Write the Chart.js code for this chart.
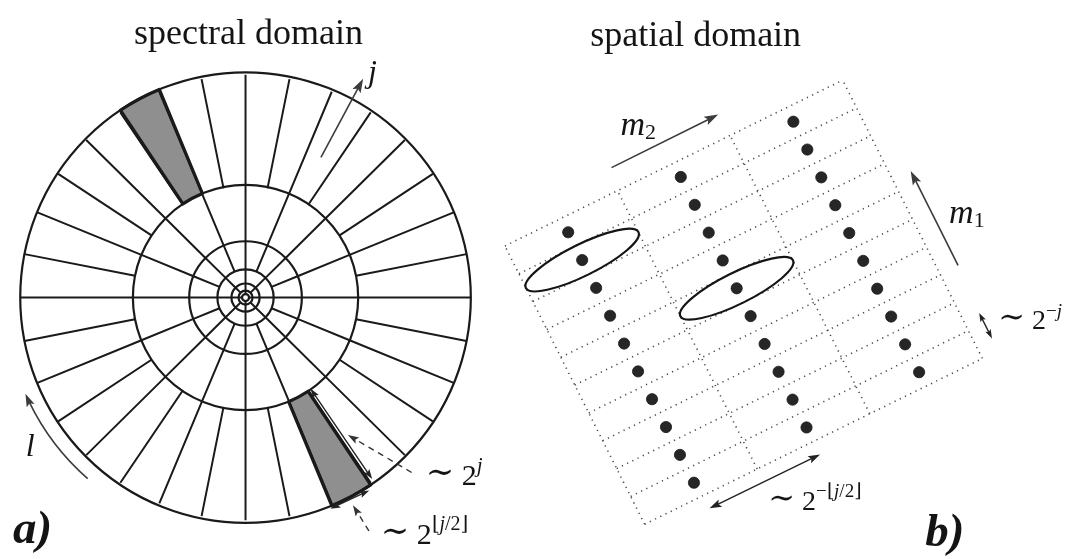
<!DOCTYPE html>
<html>
<head>
<meta charset="utf-8">
<script src="https://cdn.jsdelivr.net/npm/chart.js@4.4.1/dist/chart.umd.min.js"></script>
<style>
  html, body { margin: 0; padding: 0; background: #ffffff; }
  canvas { display: block; }
</style>
</head>
<body>
<canvas id="tiling" width="1079" height="559"></canvas>
<script>
// ---------- spectral domain: frequency tiling (radius in units of 2^j) ----------
const ringRadii   = [1, 0.5, 0.25, 0.125, 0.0625, 0.03125, 0.015625];
// number of angular wedges in the ring between ringRadii[i+1] and ringRadii[i]
const wedgeCounts = [32, 16, 16, 8, 8, 4];
// highlighted wedges of the outer ring, [from, to] in degrees
const shadedWedges = [[112.5, 123.75], [-67.5, -56.25]];

// ---------- spatial domain: translation grid of one scale / orientation ----------
const m1Index = [0, 1, 2, 3, 4, 5, 6, 7, 8, 9];   // rows (step 2^-j)
const m2Index = [0, 1, 2];                          // columns (step 2^-⌊j/2⌋)
const gridAngle  = 26.4;   // orientation of the m2 direction, degrees
const cellLength = 4;      // along m2, in units of 2^-j
const cellWidth  = 1;      // along m1, in units of 2^-j
// cells [m2, m1] that carry an elongated envelope
const ellipseCells = [[0, 8], [1, 5]];

// ---------- view setup ----------
const W = 1079, H = 559;
const spec = { cx: 242, cy: 298, unit: 228 };     // centre / unit radius of the disk
const spat = { ox: 645.9, oy: 530, unit: 31.8 };  // grid corner / size of 2^-j
const SERIF = "'Liberation Serif','DejaVu Serif',serif";

const cosd = a => Math.cos(a * Math.PI / 180);
const sind = a => Math.sin(a * Math.PI / 180);
const rad  = a => a * Math.PI / 180;

// lattice position (a cells along m2, b rows along m1) -> spatial coordinates
function lat(a, b) {
  return {
    x: a * cellLength * cosd(gridAngle) + b * cellWidth * cosd(gridAngle + 90),
    y: a * cellLength * sind(gridAngle) + b * cellWidth * sind(gridAngle + 90)
  };
}
const polar = (r, a) => ({ x: r * cosd(a), y: r * sind(a) });

// radial separators of every ring
const radialSegments = [];
wedgeCounts.forEach((n, i) => {
  const rOut = ringRadii[i], rIn = ringRadii[i + 1];
  for (let k = 0; k < n; k++) {
    const a = k * 360 / n;
    const p0 = polar(rIn, a), p1 = polar(rOut, a);
    radialSegments.push(p0, p1, { x: p1.x, y: null });
  }
});

// dotted grid lines
const gridSegments = [];
const nRows = m1Index.length, nCols = m2Index.length;
for (let b = 0; b <= nRows; b++) {
  const p0 = lat(0, b), p1 = lat(nCols, b);
  gridSegments.push(p0, p1, { x: p1.x, y: null });
}
for (let a = 0; a <= nCols; a++) {
  const p0 = lat(a, 0), p1 = lat(a, nRows);
  gridSegments.push(p0, p1, { x: p1.x, y: null });
}

// one sample per cell, at the cell centre
const samplePoints = [];
m2Index.forEach(a => m1Index.forEach(b => samplePoints.push(lat(a + 0.5, b + 0.5))));

// ---------- annotations ----------
const arrowsL = [
  { from: polar(0.713, 62), to: polar(1.112, 62), heads: [false, true], color: '#3c3c3c', width: 1.6, head: 14 },
  { from: polar(0.50, -54.8), to: polar(0.99, -55.4), heads: [true, true], color: '#222', width: 1.4, head: 10 },
  { from: polar(1.02, -68.3), to: polar(1.025, -57.6), heads: [true, true], color: '#222', width: 1.4, head: 10 },
  { from: polar(1.077, -46.8), to: polar(0.766, -53.6), heads: [false, true], color: '#333', width: 1.4, head: 11, dash: [6, 5] },
  { from: polar(1.182, -62.4), to: polar(1.047, -62.9), heads: [false, true], color: '#333', width: 1.4, head: 11, dash: [6, 5] }
];
const arcArrowL = { r: 1.066, from: 228.9, to: 203.6, color: '#3c3c3c', width: 1.6, head: 13 };

const arrowsR = [
  { from: lat(1.04, 10.75), to: lat(1.99, 10.77), heads: [false, true], color: '#3c3c3c', width: 1.6, head: 14 },
  { from: lat(3.16, 3.03), to: lat(3.16, 6.42), heads: [false, true], color: '#3c3c3c', width: 1.6, head: 14 },
  { from: lat(3.14, 0.44), to: lat(3.14, 1.36), heads: [true, true], color: '#222', width: 1.4, head: 9 },
  { from: lat(0.52, -0.46), to: lat(1.50, -0.47), heads: [true, true], color: '#222', width: 1.4, head: 12 }
];

const R = f => f + ' ' + SERIF;
const texts = [
  { axis: 'L', x: 0.0132, y: 1.1404, align: 'center', runs: [{ t: 'spectral domain', f: R('36px') }] },
  { axis: 'R', x: 1.623, y: 15.377, align: 'center', runs: [{ t: 'spatial domain', f: R('36px') }] },
  { axis: 'L', x: 0.5439, y: 0.9693, runs: [{ t: 'j', f: R('italic 32px') }] },
  { axis: 'L', x: -0.975, y: -0.7105, runs: [{ t: 'l', f: R('italic 32px') }] },
  { axis: 'L', x: 0.80, y: -0.842, runs: [
      { t: '∼', f: R('34px'), dy: -2 }, { t: ' 2', f: R('30px') }, { t: 'j', f: R('italic 21px'), dy: -13 }] },
  { axis: 'L', x: 0.60, y: -1.105, runs: [
      { t: '∼', f: R('34px'), dy: -2 }, { t: ' 2', f: R('30px') },
      { t: '⌊', f: R('20px'), dy: -14 }, { t: 'j', f: R('italic 20px'), dy: -14 }, { t: '/2⌋', f: R('20px'), dy: -14 }] },
  { axis: 'L', x: -1.032, y: -1.101, runs: [{ t: 'a)', f: R('bold italic 47px') }] },
  { axis: 'R', x: -0.767, y: 12.516, runs: [{ t: 'm', f: R('italic 34px') }, { t: '2', f: R('22px'), dy: 4 }] },
  { axis: 'R', x: 9.689, y: 9.686, runs: [{ t: 'm', f: R('italic 34px') }, { t: '1', f: R('22px'), dy: 4 }] },
  { axis: 'R', x: 11.25, y: 6.289, runs: [
      { t: '∼', f: R('32px'), dy: -2 }, { t: ' 2', f: R('28px') }, { t: '−', f: R('19px'), dy: -12 }, { t: 'j', f: R('italic 19px'), dy: -12 }] },
  { axis: 'R', x: 3.93, y: 0.472, runs: [
      { t: '∼', f: R('32px'), dy: -2 }, { t: ' 2', f: R('28px') },
      { t: '−⌊', f: R('19px'), dy: -13 }, { t: 'j', f: R('italic 19px'), dy: -13 }, { t: '/2⌋', f: R('19px'), dy: -13 }] },
  { axis: 'R', x: 8.93, y: -0.692, runs: [{ t: 'b)', f: R('bold italic 47px') }] }
];

// ---------- drawing helpers ----------
function toPx(chart, axis, p) {
  return [chart.scales['x' + axis].getPixelForValue(p.x), chart.scales['y' + axis].getPixelForValue(p.y)];
}
function diskGeom(chart) {
  const xs = chart.scales.xL, ys = chart.scales.yL;
  const cx = xs.getPixelForValue(0), cy = ys.getPixelForValue(0);
  return { cx, cy, k: xs.getPixelForValue(1) - cx };
}
function wedgePath(ctx, g, r0, r1, a0, a1) {
  ctx.beginPath();
  ctx.arc(g.cx, g.cy, r1 * g.k, -rad(a0), -rad(a1), true);
  ctx.arc(g.cx, g.cy, r0 * g.k, -rad(a1), -rad(a0), false);
  ctx.closePath();
}
function arrowHead(ctx, x, y, dx, dy, len, color) {
  const n = Math.hypot(dx, dy); dx /= n; dy /= n;
  const hw = len * 0.33;
  ctx.save();
  ctx.fillStyle = color;
  ctx.setLineDash([]);
  ctx.beginPath();
  ctx.moveTo(x, y);
  ctx.lineTo(x - dx * len - dy * hw, y - dy * len + dx * hw);
  ctx.lineTo(x - dx * len * 0.8, y - dy * len * 0.8);
  ctx.lineTo(x - dx * len + dy * hw, y - dy * len - dx * hw);
  ctx.closePath();
  ctx.fill();
  ctx.restore();
}
function drawArrow(ctx, chart, axis, a) {
  const [x0, y0] = toPx(chart, axis, a.from);
  const [x1, y1] = toPx(chart, axis, a.to);
  const dx = x1 - x0, dy = y1 - y0, n = Math.hypot(dx, dy);
  const ux = dx / n, uy = dy / n;
  const s0 = a.heads[0] ? a.head * 0.7 : 0, s1 = a.heads[1] ? a.head * 0.7 : 0;
  ctx.save();
  ctx.strokeStyle = a.color;
  ctx.lineWidth = a.width;
  ctx.setLineDash(a.dash || []);
  ctx.beginPath();
  ctx.moveTo(x0 + ux * s0, y0 + uy * s0);
  ctx.lineTo(x1 - ux * s1, y1 - uy * s1);
  ctx.stroke();
  ctx.restore();
  if (a.heads[0]) arrowHead(ctx, x0, y0, -dx, -dy, a.head, a.color);
  if (a.heads[1]) arrowHead(ctx, x1, y1, dx, dy, a.head, a.color);
}
function drawText(ctx, chart, t) {
  let [x, y] = toPx(chart, t.axis, t);
  ctx.save();
  ctx.fillStyle = '#141414';
  ctx.textBaseline = 'alphabetic';
  ctx.textAlign = 'left';
  if (t.align === 'center') {
    let w = 0;
    t.runs.forEach(r => { ctx.font = r.f; w += ctx.measureText(r.t).width; });
    x -= w / 2;
  }
  t.runs.forEach(r => {
    ctx.font = r.f;
    ctx.fillText(r.t, x, y + (r.dy || 0));
    x += ctx.measureText(r.t).width;
  });
  ctx.restore();
}

const tilingPlugin = {
  id: 'tilingPlugin',
  beforeDatasetsDraw(chart) {
    const ctx = chart.ctx, g = diskGeom(chart);
    ctx.save();
    ctx.fillStyle = '#8f8f8f';
    shadedWedges.forEach(([a0, a1]) => { wedgePath(ctx, g, ringRadii[1], ringRadii[0], a0, a1); ctx.fill(); });
    ctx.restore();
  },
  afterDatasetsDraw(chart) {
    const ctx = chart.ctx, g = diskGeom(chart);
    // concentric scale boundaries
    ctx.save();
    ctx.strokeStyle = '#1a1a1a';
    ctx.lineWidth = 2.2;
    ringRadii.forEach(r => { ctx.beginPath(); ctx.arc(g.cx, g.cy, r * g.k, 0, Math.PI * 2); ctx.stroke(); });
    // outline of the highlighted wedges
    ctx.lineWidth = 3.2;
    ctx.lineJoin = 'round';
    shadedWedges.forEach(([a0, a1]) => { wedgePath(ctx, g, ringRadii[1], ringRadii[0], a0, a1); ctx.stroke(); });
    ctx.restore();

    // angular arrow l
    const A = arcArrowL;
    ctx.save();
    ctx.strokeStyle = A.color;
    ctx.lineWidth = A.width;
    ctx.beginPath();
    ctx.arc(g.cx, g.cy, A.r * g.k, -rad(A.from), -rad(A.to + 2.2), false);
    ctx.stroke();
    ctx.restore();
    const tip = [g.cx + A.r * g.k * cosd(A.to), g.cy - A.r * g.k * sind(A.to)];
    arrowHead(ctx, tip[0], tip[1], sind(A.to), cosd(A.to), A.head, A.color);

    arrowsL.forEach(a => drawArrow(ctx, chart, 'L', a));

    // envelopes of two sampled curvelets
    const xs = chart.scales.xR;
    const u = xs.getPixelForValue(1) - xs.getPixelForValue(0);
    ctx.save();
    ctx.strokeStyle = '#151515';
    ctx.lineWidth = 2.2;
    ellipseCells.forEach(([a, b]) => {
      const [cx, cy] = toPx(chart, 'R', lat(a + 0.5, b + 0.5));
      ctx.beginPath();
      ctx.ellipse(cx, cy, 0.5 * cellLength * u, 0.5 * cellWidth * u, -rad(gridAngle), 0, Math.PI * 2);
      ctx.stroke();
    });
    ctx.restore();

    arrowsR.forEach(a => drawArrow(ctx, chart, 'R', a));
    texts.forEach(t => drawText(ctx, chart, t));
  }
};

new Chart(document.getElementById('tiling'), {
  type: 'scatter',
  data: {
    datasets: [
      {
        type: 'line', data: radialSegments, xAxisID: 'xL', yAxisID: 'yL',
        borderColor: '#1a1a1a', borderWidth: 2, pointRadius: 0, spanGaps: false, fill: false
      },
      {
        type: 'line', data: gridSegments, xAxisID: 'xR', yAxisID: 'yR',
        borderColor: '#4a4a4a', borderWidth: 1.6, borderDash: [1.2, 4.6],
        pointRadius: 0, spanGaps: false, fill: false
      },
      {
        type: 'scatter', data: samplePoints, xAxisID: 'xR', yAxisID: 'yR',
        pointRadius: 5.6, pointBackgroundColor: '#262626', pointBorderColor: '#1a1a1a', pointBorderWidth: 0.8
      }
    ]
  },
  options: {
    responsive: false,
    animation: false,
    devicePixelRatio: 1,
    events: [],
    layout: { padding: 0 },
    plugins: { legend: { display: false }, tooltip: { enabled: false }, title: { display: false } },
    scales: {
      x:  { display: false },
      y:  { display: false },
      xL: { type: 'linear', axis: 'x', display: false, min: -spec.cx / spec.unit, max: (W - spec.cx) / spec.unit },
      yL: { type: 'linear', axis: 'y', display: false, min: -(H - spec.cy) / spec.unit, max: spec.cy / spec.unit },
      xR: { type: 'linear', axis: 'x', display: false, min: -spat.ox / spat.unit, max: (W - spat.ox) / spat.unit },
      yR: { type: 'linear', axis: 'y', display: false, min: -(H - spat.oy) / spat.unit, max: spat.oy / spat.unit }
    }
  },
  plugins: [tilingPlugin]
});
</script>
</body>
</html>
